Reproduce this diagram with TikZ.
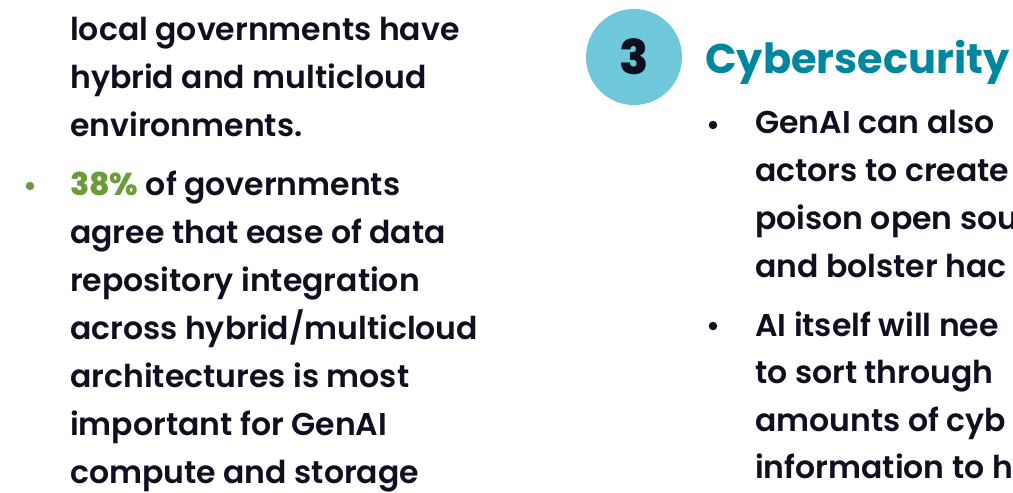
\documentclass[tikz,border=0pt]{standalone}
\usepackage{fontspec}
\setmainfont{Poppins}[UprightFont=* SemiBold, BoldFont=* Bold]
\newfontfamily\heavy{Poppins}[UprightFont=* Bold]
\newfontfamily\xheavy{Poppins}[UprightFont=* ExtraBold]
\definecolor{ink}{RGB}{14,16,32}
\definecolor{grn}{RGB}{108,156,58}
\definecolor{teal}{RGB}{0,134,158}
\definecolor{circ}{RGB}{110,200,218}
\tikzset{
  txt/.style={anchor=base west, inner sep=0pt, font=\fontsize{31.5}{36}\selectfont, text=ink},
  dot/.style={circle, fill=#1, minimum size=8.5pt, inner sep=0pt},
}
\begin{document}
\begin{tikzpicture}[x=1pt,y=-1pt]
\useasboundingbox (0,0) rectangle (1013,493);
\fill[white] (0,0) rectangle (1013,493);
\clip (0,0) rectangle (1013,493);
% left column
\node[txt] (l1) at (70,40) {local governments have};
\node[txt] (l2) at (70,88) {hybrid and multicloud};
\node[txt] (l3) at (70,136) {environments.};
\node[dot=grn] (b1) at (30,186) {};
\node[txt] (m1) at (70,195) {\textcolor{grn}{\xheavy 38\%} of governments};
\node[txt] (m2) at (70,243) {agree that ease of data};
\node[txt] (m3) at (70,291) {repository integration};
\node[txt] (m4) at (70,339) {across hybrid/multicloud};
\node[txt] (m5) at (70,387) {architectures is most};
\node[txt] (m6) at (70,435) {important for GenAI};
\node[txt] (m7) at (70,483) {compute and storage};
% right column
\node[circle, fill=circ, minimum size=96pt, inner sep=0pt] (c) at (634,57) {};
\node[font=\fontsize{48}{48}\selectfont\xheavy, text=ink, anchor=base, inner sep=0pt] at (634,74) {3};
\node[anchor=base west, inner sep=0pt, font=\fontsize{41.5}{48}\selectfont\heavy, text=teal] (t) at (705,73) {Cybersecurity};
\node[dot=ink] (b2) at (713,125) {};
\node[txt] (r1) at (755,133) {GenAI can also};
\node[txt] (r2) at (755,181) {actors to create};
\node[txt] (r3) at (755,229) {poison open sou};
\node[txt] (r4) at (755,277) {and bolster hac};
\node[dot=ink] (b3) at (713,326) {};
\node[txt] (r5) at (755,336) {AI itself will nee};
\node[txt] (r6) at (755,383) {to sort through};
\node[txt] (r7) at (755,431) {amounts of cyb};
\node[txt] (r8) at (755,478) {information to h};
\end{tikzpicture}
\end{document}
